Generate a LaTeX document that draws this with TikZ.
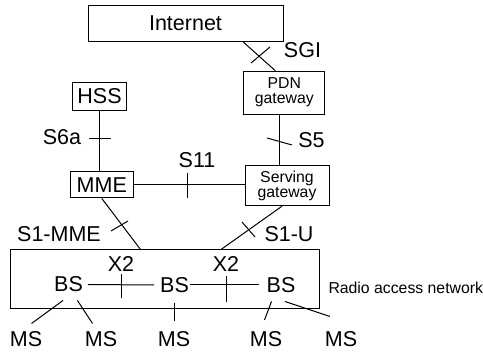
\documentclass[tikz,border=0pt]{standalone}
\usepackage{fontspec}
\setmainfont{Liberation Sans}
\usetikzlibrary{calc}
\tikzset{
  box/.style={draw, inner sep=0pt},
  big/.style={font=\fontsize{21.5}{24}\selectfont, inner sep=0pt},
  small/.style={font=\fontsize{15.8}{15}\selectfont, align=center, inner sep=0pt},
}

\begin{document}
\begin{tikzpicture}[x=1pt, y=-1pt, line width=1pt]
  \useasboundingbox (0,0) rectangle (483,352);
  % core network
  \node[box, big, minimum width=195pt, minimum height=36pt] (inet) at (185.5,23.3) {Internet};
  \node[box, small, minimum width=81pt, minimum height=43pt] (pdn) at (284.3,92.7) {PDN\\gateway};
  \node[box, big, minimum width=54.5pt, minimum height=27.5pt] (hss) at (99.5,96.5) {HSS};
  \node[box, big, minimum width=63pt, minimum height=26.3pt] (mme) at (101.8,184.8) {MME};
  \node[box, small, minimum width=84pt, minimum height=40pt] (sgw) at (287,185.7) {Serving\\gateway};
  \node[box, minimum width=309pt, minimum height=59pt] (ran) at (165,279.5) {};
  \node[small, anchor=west] (ranlbl) at (328,287.5) {Radio access network};
  % base stations and mobiles
  \node[big] (bs1) at (68.5,284.5) {BS};
  \node[big] (bs2) at (174.5,285) {BS};
  \node[big] (bs3) at (281,285) {BS};
  \node[big] (ms1) at (26,339.5) {MS};
  \node[big] (ms2) at (101,339.5) {MS};
  \node[big] (ms3) at (174,339.5) {MS};
  \node[big] (ms4) at (266,339.5) {MS};
  \node[big] (ms5) at (341,339.5) {MS};
  % interface names
  \node[big] (sgi) at (302.5,50) {SGI};
  \node[big] (s6a) at (62,137.5) {S6a};
  \node[big] (s5) at (311.5,140) {S5};
  \node[big] (s11) at (197,160.5) {S11};
  \node[big] (s1mme) at (59,234) {S1-MME};
  \node[big] (s1u) at (289,234) {S1-U};
  \node[big] (xa) at (121,264) {X2};
  \node[big] (xb) at (226,264) {X2};
  % links
  \draw ([xshift=57.5pt]inet.south) -- ([xshift=-9pt]pdn.north);
  \draw (hss.south) -- (hss.south |- mme.north);
  \draw ([xshift=-5pt]pdn.south) -- ([xshift=-5pt]pdn.south |- sgw.north);
  \draw (mme.east) -- (mme.east -| sgw.west);
  \draw (mme.south) -- ([xshift=-24.5pt]ran.north);
  \draw ([xshift=-5pt]sgw.south) -- ([xshift=56pt]ran.north);
  \draw ($(bs1.east)+(4.5,0)$) -- ($(bs2.west)+(-5.5,0)$);
  \draw ($(bs2.east)+(0.5,0)$) -- ($(bs3.west)+(-7,0)$);
  \draw ($(bs1)+(-5.5,16)$) -- ($(ms1)+(5.5,-16)$);
  \draw ($(bs1)+(9,16)$) -- ($(ms2)+(-8.5,-16)$);
  \draw ($(bs2)+(-0.5,18)$) -- ($(ms3)+(0,-18.5)$);
  \draw ($(bs3)+(-9.5,16.5)$) -- ($(ms4)+(-1.5,-19.5)$);
  \draw ($(bs3)+(4,16.5)$) -- ($(ms5)+(-11,-23)$);
  % interface ticks
  \draw (251,63) -- (270,47);
  \draw (89,139) -- (111,139);
  \draw (267,138) -- (292,145);
  \draw (187,173) -- (187,198);
  \draw (111,231) -- (128,221);
  \draw (242,222) -- (255,237);
  \draw (121,274) -- (121,298);
  \draw (226,276) -- (226,302);
\end{tikzpicture}
\end{document}
